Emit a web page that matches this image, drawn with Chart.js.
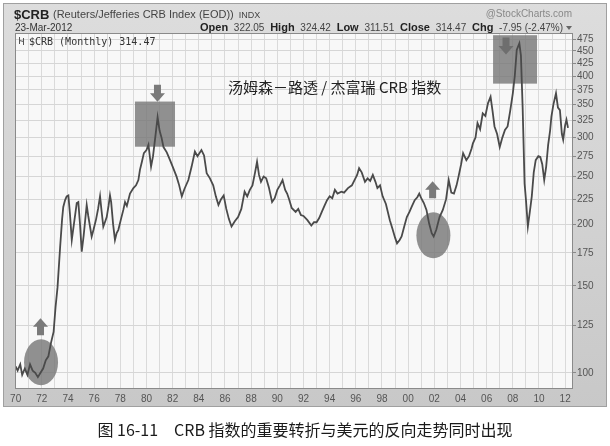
<!DOCTYPE html>
<html lang="zh-CN">
<head>
<meta charset="UTF-8" />
<title>CRB 指数</title>
<style>
  body { margin: 0; background: #fff; }
  canvas { display: block; }
</style>
</head>
<body>
<canvas id="crbChart" width="610" height="446"></canvas>
<script src="https://cdn.jsdelivr.net/npm/chart.js"></script>
<script>
// monthly CRB closes (decimal years)
const years = [
  1970.00, 1970.15, 1970.35, 1970.50, 1970.70, 1970.90, 1971.10, 1971.30, 1971.50, 1971.70, 1971.90,
  1972.10, 1972.30, 1972.50, 1972.70, 1972.90, 1973.05, 1973.20, 1973.40, 1973.55, 1973.64, 1973.78,
  1973.90, 1974.03, 1974.15, 1974.29, 1974.45, 1974.67, 1974.79, 1974.92, 1975.05, 1975.20, 1975.43,
  1975.55, 1975.81, 1975.95, 1976.15, 1976.30, 1976.45, 1976.55, 1976.70, 1976.85, 1976.96,
  1977.10, 1977.21, 1977.30, 1977.45, 1977.59, 1977.72, 1977.85, 1978.05, 1978.23, 1978.36, 1978.50,
  1978.74, 1979.00, 1979.20, 1979.38, 1979.50, 1979.65, 1979.80,
  1980.00, 1980.15, 1980.35, 1980.50, 1980.70, 1980.85, 1981.00, 1981.15, 1981.30, 1981.55, 1981.80,
  1982.00, 1982.30, 1982.50, 1982.70, 1982.90, 1983.20, 1983.45, 1983.70, 1983.90,
  1984.20, 1984.40, 1984.60, 1984.85, 1985.10, 1985.30, 1985.50, 1985.70, 1985.90,
  1986.10, 1986.30, 1986.50, 1986.75, 1987.00, 1987.25, 1987.50, 1987.70, 1987.90,
  1988.10, 1988.30, 1988.45, 1988.60, 1988.75, 1988.95, 1989.15, 1989.35, 1989.60, 1989.80,
  1990.00, 1990.20, 1990.40, 1990.60, 1990.75, 1990.90, 1991.10, 1991.40, 1991.60, 1991.80,
  1992.00, 1992.30, 1992.60, 1992.80, 1993.00, 1993.20, 1993.40, 1993.60, 1993.80,
  1994.00, 1994.20, 1994.40, 1994.60, 1994.90, 1995.10, 1995.40, 1995.70, 1995.90,
  1996.10, 1996.25, 1996.45, 1996.70, 1996.90, 1997.10, 1997.30, 1997.50, 1997.65, 1997.85,
  1998.05, 1998.30, 1998.60, 1998.80, 1999.00, 1999.15, 1999.35, 1999.50, 1999.70, 1999.90,
  2000.10, 2000.30, 2000.50, 2000.70, 2000.85, 2001.00, 2001.20, 2001.40, 2001.60, 2001.80, 2001.95,
  2002.15, 2002.40, 2002.65, 2002.90, 2003.10, 2003.30, 2003.50, 2003.70, 2003.85,
  2004.05, 2004.20, 2004.45, 2004.65, 2004.85, 2004.95, 2005.15, 2005.30, 2005.50, 2005.70, 2005.90,
  2006.10, 2006.30, 2006.45, 2006.60, 2006.80, 2007.00, 2007.20, 2007.40, 2007.60, 2007.80,
  2008.00, 2008.15, 2008.30, 2008.50, 2008.62, 2008.75, 2008.90, 2009.00, 2009.15, 2009.30, 2009.45,
  2009.60, 2009.75, 2009.95, 2010.10, 2010.25, 2010.40, 2010.55, 2010.70, 2010.85, 2010.95,
  2011.10, 2011.30, 2011.45, 2011.60, 2011.75, 2011.85, 2012.00, 2012.10, 2012.22
];
const crbValues = [
  103, 101, 104, 99, 102, 99, 104, 101, 100, 98, 100,
  102, 106, 108, 115, 121, 136, 149, 180, 205, 217, 224,
  228, 229, 210, 186, 200, 221, 222, 200, 176, 190, 219,
  208, 189, 195, 205, 215, 228, 215, 198, 203, 207,
  218, 229, 222, 200, 186, 192, 195, 205, 214, 222, 218,
  231, 237, 240, 246, 258, 268, 279,
  283, 290, 262, 275, 305, 330, 310, 300, 287, 280, 270,
  262, 250, 240, 228, 236, 246, 262, 281, 275,
  283, 276, 254, 248, 240, 228, 219, 225, 229,
  215, 205, 198, 203, 207, 215, 233, 228, 235,
  240, 255, 268, 252, 244, 250, 248, 238, 222, 226,
  235, 240, 246, 235, 231, 225, 216, 212, 215, 209,
  208, 204, 199, 202, 202, 206, 212, 218, 224,
  228, 226, 235, 231, 233, 232, 237, 240, 246,
  252, 260, 255, 244, 248, 245, 252, 244, 237, 240,
  228, 220, 204, 196, 188, 183, 186, 189, 198, 207,
  212, 218, 224, 227, 231, 226, 221, 214, 201, 192, 189,
  195, 207, 214, 225, 246, 232, 231, 240, 250,
  265, 279, 270, 275, 285, 292, 300, 321, 312, 336, 332,
  352, 363, 340, 316, 305, 287, 300, 311, 316, 340,
  369, 400, 452, 466, 440, 346, 242, 225, 198, 212, 228,
  255, 270, 275, 274, 265, 246, 262, 290, 310, 331,
  350, 369, 345, 341, 305, 297, 318, 326, 314
];
const xLabelYears = [1970, 1972, 1974, 1976, 1978, 1980, 1982, 1984, 1986, 1988, 1990,
  1992, 1994, 1996, 1998, 2000, 2002, 2004, 2006, 2008, 2010, 2012];
const yTickValues = [100, 125, 150, 175, 200, 225, 250, 275, 300, 325, 350, 375, 400, 425, 450, 475];

// highlight marks, in data units
const ellipseYears = [1971.94, 2001.93];
const ellipseValues = [105, 190];
const boxYears = [[1979.12, 1982.18], [2006.49, 2009.85]];
const boxValues = [[287.5, 355], [386, 484]];
const arrowYears = [1971.9, 1980.84, 2001.87, 2007.48];
const arrowValues = [124, 369, 235, 460];
const arrowDirs = ['up', 'down', 'up', 'down'];

const quote = [['Open', '322.05'], ['High', '324.42'], ['Low', '311.51'], ['Close', '314.47'], ['Chg', '-7.95 (-2.47%)']];

const points = years.map((y, i) => ({ x: y, y: crbValues[i] }));
const gridYears = [];
for (let y = 1970; y <= 2012; y++) gridYears.push(y);

function drawArrow(c, cx, cy, dir) {
  const s = dir === 'up' ? 1 : -1;
  c.beginPath();
  c.moveTo(cx, cy - 8.5 * s);
  c.lineTo(cx + 7.5, cy);
  c.lineTo(cx + 3.5, cy);
  c.lineTo(cx + 3.5, cy + 8.5 * s);
  c.lineTo(cx - 3.5, cy + 8.5 * s);
  c.lineTo(cx - 3.5, cy);
  c.lineTo(cx - 7.5, cy);
  c.closePath();
  c.fill();
}

const decor = {
  id: 'decor',
  beforeDraw(chart) {
    const c = chart.ctx, a = chart.chartArea;
    c.save();
    c.fillStyle = '#fff';
    c.fillRect(0, 0, 610, 446);
    const g = c.createLinearGradient(0, 0, 0, 408);
    g.addColorStop(0, '#dddddd');
    g.addColorStop(1, '#c8c8c8');
    c.fillStyle = g;
    c.fillRect(3, 3, 604, 404);
    c.strokeStyle = '#a0a0a0';
    c.strokeRect(3.5, 3.5, 603, 403);
    c.fillStyle = '#f8f8f8';
    c.fillRect(a.left, a.top, a.width, a.height);
    c.restore();
  },
  beforeDatasetsDraw(chart) {
    const c = chart.ctx, xs = chart.scales.x, ys = chart.scales.y;
    c.save();
    c.fillStyle = 'rgba(118,118,118,0.8)';
    ellipseYears.forEach((yr, i) => {
      c.beginPath();
      c.ellipse(xs.getPixelForValue(yr), ys.getPixelForValue(ellipseValues[i]), 17, 23, 0, 0, Math.PI * 2);
      c.fill();
    });
    boxYears.forEach((r, i) => {
      const x0 = xs.getPixelForValue(r[0]), x1 = xs.getPixelForValue(r[1]);
      const y0 = ys.getPixelForValue(boxValues[i][1]), y1 = ys.getPixelForValue(boxValues[i][0]);
      c.fillRect(x0, y0, x1 - x0, y1 - y0);
    });
    arrowYears.forEach((yr, i) => {
      c.fillStyle = i === 3 ? '#6e6e6e' : '#7a7a7a';
      drawArrow(c, xs.getPixelForValue(yr), ys.getPixelForValue(arrowValues[i]), arrowDirs[i]);
    });
    c.restore();
  },
  afterDraw(chart) {
    const c = chart.ctx, a = chart.chartArea;
    c.save();
    c.strokeStyle = '#8a8a8a';
    c.lineWidth = 1;
    c.strokeRect(a.left + 0.5, a.top + 0.5, a.width - 1, a.height - 1);

    c.textBaseline = 'alphabetic';
    c.fillStyle = '#222';
    c.font = 'bold 13px "Liberation Sans", Arial, sans-serif';
    c.fillText('$CRB', 14, 19);
    c.fillStyle = '#444';
    c.font = '11px "Liberation Sans", Arial, sans-serif';
    const sub = '(Reuters/Jefferies CRB Index (EOD))';
    c.fillText(sub, 53, 18);
    const subEnd = 53 + c.measureText(sub).width;
    c.font = '9px "Liberation Sans", Arial, sans-serif';
    c.fillText('INDX', subEnd + 5, 18);
    c.fillStyle = '#888';
    c.font = '10px "Liberation Sans", Arial, sans-serif';
    c.textAlign = 'right';
    c.fillText('@StockCharts.com', 572, 17);
    c.textAlign = 'left';
    c.fillStyle = '#333';
    c.fillText('23-Mar-2012', 15, 31);

    // quote line, spread between x=200 and the plot's right edge
    const boldF = 'bold 11px "Liberation Sans Narrow", "Liberation Sans", Arial, sans-serif';
    const numF = '10px "Liberation Sans Narrow", "Liberation Sans", Arial, sans-serif';
    let total = 0;
    const parts = [];
    quote.forEach(q => {
      c.font = boldF; const w1 = c.measureText(q[0]).width;
      c.font = numF; const w2 = c.measureText(q[1]).width;
      parts.push([w1, w2]);
      total += w1 + w2;
    });
    const start = 200, end = 563;
    const gap = (end - start - total) / (quote.length * 2 - 1);
    let x = start;
    quote.forEach((q, i) => {
      c.fillStyle = '#222';
      c.font = boldF; c.fillText(q[0], x, 31); x += parts[i][0] + gap;
      c.fillStyle = '#444';
      c.font = numF; c.fillText(q[1], x, 31); x += parts[i][1] + gap;
    });
    c.fillStyle = '#666';
    c.beginPath();
    c.moveTo(566, 26); c.lineTo(572, 26); c.lineTo(569, 30); c.closePath(); c.fill();

    // legend tag inside the plot
    c.strokeStyle = '#555';
    c.beginPath();
    c.moveTo(19.5, 37); c.lineTo(19.5, 44);
    c.moveTo(23.5, 38); c.lineTo(23.5, 45);
    c.moveTo(19.5, 40.5); c.lineTo(23.5, 41.5);
    c.stroke();
    c.fillStyle = '#333';
    c.font = '10px "DejaVu Sans Mono", monospace';
    c.fillText('$CRB (Monthly) 314.47', 29, 45);

    c.fillStyle = '#222';
    c.font = '15px "Noto Sans CJK SC", sans-serif';
    c.fillText('汤姆森－路透 / 杰富瑞 CRB 指数', 228, 93);

    c.textAlign = 'center';
    c.fillStyle = '#1a1a1a';
    c.font = '16px "Noto Sans CJK SC", sans-serif';
    c.fillText('图 16-11　CRB 指数的重要转折与美元的反向走势同时出现', 305, 436);
    c.restore();
  }
};

new Chart(document.getElementById('crbChart'), {
  type: 'line',
  data: {
    datasets: [{
      label: '$CRB (Monthly)',
      data: points,
      borderColor: '#4a4a4a',
      borderWidth: 1.8,
      pointRadius: 0,
      tension: 0,
      fill: false
    }]
  },
  options: {
    responsive: false,
    animation: false,
    devicePixelRatio: 1,
    layout: { padding: { left: 15, top: 33, right: 0, bottom: 0 } },
    plugins: { legend: { display: false }, tooltip: { enabled: false } },
    scales: {
      x: {
        type: 'linear',
        min: 1969.95,
        max: 2012.6,
        afterBuildTicks: s => { s.ticks = gridYears.map(v => ({ value: v })); },
        afterFit: s => { s.height = 57; },
        grid: { color: '#dadada', drawTicks: false },
        border: { display: false },
        ticks: {
          autoSkip: false,
          maxRotation: 0,
          padding: 4,
          color: '#555',
          font: { family: '"Liberation Sans", Arial, sans-serif', size: 10 },
          callback: v => xLabelYears.includes(v) ? String(v % 100).padStart(2, '0') : ''
        }
      },
      y: {
        type: 'logarithmic',
        position: 'right',
        min: 92.7,
        max: 489,
        afterBuildTicks: s => { s.ticks = yTickValues.map(v => ({ value: v })); },
        afterFit: s => { s.width = 37; },
        grid: { color: '#d6d6d6', tickLength: 3, tickColor: '#888' },
        border: { display: false },
        ticks: {
          padding: 1,
          color: '#555',
          font: { family: '"Liberation Sans", Arial, sans-serif', size: 10 },
          callback: v => String(v)
        }
      }
    }
  },
  plugins: [decor]
});
</script>
</body>
</html>
